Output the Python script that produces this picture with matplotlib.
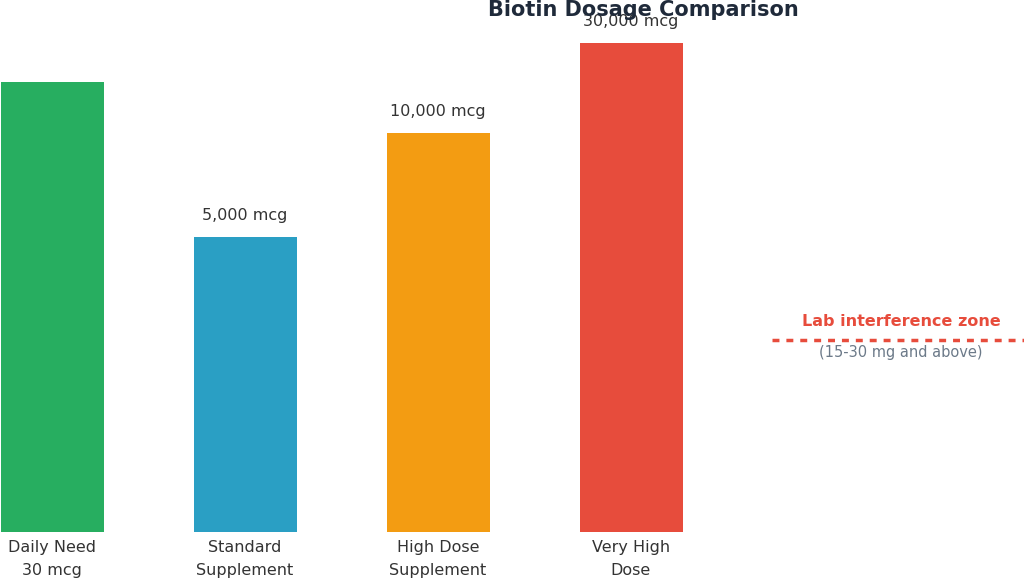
import matplotlib
matplotlib.use("Agg")
import matplotlib.pyplot as plt

categories = ["Daily Need\n30 mcg", "Standard\nSupplement", "High Dose\nSupplement", "Very High\nDose"]
# bar heights as drawn (display units, chart is not to scale)
heights = [450, 295, 399, 489]
value_labels = ["", "5,000 mcg", "10,000 mcg", "30,000 mcg"]
colors = ["#27ae60", "#2a9fc4", "#f39c12", "#e74c3c"]

W, H = 1024, 588
fig = plt.figure(figsize=(W / 100, H / 100), dpi=100)
base = 532
ax = fig.add_axes([0, (H - base) / H, 1, base / H])
ax.set_xlim(0, W)
ax.set_ylim(0, base)
ax.axis("off")

xs = [52 + 193 * i for i in range(len(categories))]
ax.bar(xs, heights, width=103, color=colors)
for x, h, lab, cat in zip(xs, heights, value_labels, categories):
    if lab:
        ax.text(x, h + 14, lab, ha="center", va="bottom", fontsize=11.5, color="#333333")
    ax.text(x, -8, cat, ha="center", va="top", fontsize=11.5, color="#333333", linespacing=1.7)

ax.plot([772, 1024], [base - 340, base - 340], color="#e74c3c", lw=2.5, ls=(0, (2, 2)))
ax.text(901, base - 321, "Lab interference zone", ha="center", va="center",
        fontsize=11.5, fontweight="bold", color="#e74c3c")
ax.text(901, base - 353, "(15-30 mg and above)", ha="center", va="center",
        fontsize=10.5, color="#6c7a89")

fig.text(643 / W, 1 - 10 / H, "Biotin Dosage Comparison", ha="center", va="center",
         fontsize=15, fontweight="bold", color="#1f2a3a")
fig.savefig("out.png", dpi=100)
